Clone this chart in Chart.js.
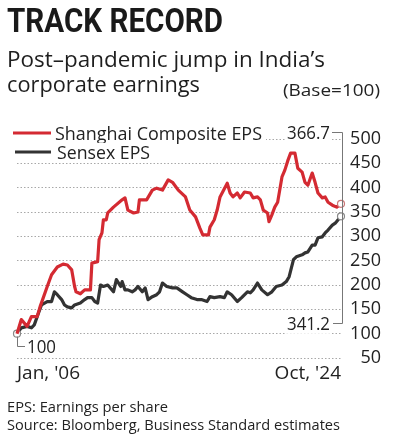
<!DOCTYPE html>
<html>
<head>
<meta charset="utf-8">
<script src="https://cdn.jsdelivr.net/npm/chart.js@4.4.1/dist/chart.umd.min.js"></script>
<style>
    html, body { margin: 0; padding: 0; background: #fff; }
    #wrap { position: relative; width: 393px; height: 443px; overflow: hidden; }
    #chart { position: absolute; left: 0; top: 0; }
    .txt {
        position: absolute;
        white-space: nowrap;
        color: #222;
        font-family: "Open Sans", "Noto Sans", sans-serif;
        transform-origin: 0 0;
        line-height: 1;
    }
    #title { left: 7px; top: 3px; font-family: Roboto, "Liberation Sans", sans-serif; font-weight: 700; font-size: 34px; color: #1a1a1a; }
    #sub1 { left: 7px; top: 49px; font-size: 21px; color: #1e1e1e; }
    #sub2 { left: 7px; top: 74px; font-size: 21px; color: #1e1e1e; }
    #base { left: 283px; top: 81px; font-size: 17px; }
    #note { left: 7px; top: 399px; font-size: 15px; }
    #source { left: 7px; top: 417px; font-size: 15px; }
</style>
</head>
<body>
<div id="wrap">
    <canvas id="chart" width="393" height="443"></canvas>
    <div class="txt" id="title" data-w="216">TRACK RECORD</div>
    <div class="txt" id="sub1" data-w="318">Post–pandemic jump in India’s</div>
    <div class="txt" id="sub2" data-w="193">corporate earnings</div>
    <div class="txt" id="base" data-w="97">(Base=100)</div>
    <div class="txt" id="note" data-w="161">EPS: Earnings per share</div>
    <div class="txt" id="source" data-w="333">Source: Bloomberg, Business Standard estimates</div>
</div>
<script>
// Months counted from Jan 2006 (0) to Oct 2024 (225)
const shanghaiMonths = [0, 3, 7, 10, 14, 16, 21, 24, 28, 32, 35, 38, 40, 41, 44, 47, 51, 52, 56, 57, 59, 60, 62, 63, 67, 73, 75, 77, 81, 84, 85, 90, 94, 97, 101, 105, 108, 112, 117, 120, 124, 127, 129, 133, 134, 137, 139, 141, 146, 148, 150, 153, 155, 158, 162, 164, 167, 169, 171, 174, 175, 177, 179, 181, 184, 186, 188, 190, 193, 195, 198, 200, 202, 205, 207, 209, 212, 214, 216, 219, 222, 225];
const shanghaiEps = [100, 129, 115, 135, 135, 155, 197, 221, 237, 243, 241, 231, 197, 186, 182, 190, 190, 245, 248, 293, 307, 334, 334, 348, 360, 375, 379, 354, 348, 350, 375, 375, 395, 399, 395, 416, 411, 395, 381, 354, 340, 317, 303, 303, 319, 334, 354, 381, 409, 389, 381, 389, 379, 391, 389, 379, 381, 375, 354, 348, 330, 344, 360, 370, 422, 436, 455, 471, 471, 440, 432, 411, 405, 430, 411, 389, 379, 381, 370, 364, 360, 366.7];

const sensexMonths = [0, 3, 7, 10, 12, 15, 17, 21, 24, 26, 28, 31, 33, 35, 38, 40, 44, 47, 49, 52, 54, 56, 58, 60, 63, 67, 69, 72, 73, 75, 77, 80, 82, 84, 87, 89, 91, 94, 97, 99, 101, 104, 108, 111, 115, 118, 121, 125, 128, 132, 134, 137, 141, 144, 146, 149, 153, 156, 160, 162, 164, 167, 170, 174, 177, 180, 184, 187, 189, 192, 194, 198, 200, 202, 205, 207, 209, 212, 214, 216, 219, 221, 225];
const sensexEps = [100, 112, 115, 112, 118, 143, 159, 166, 166, 186, 180, 170, 159, 155, 153, 159, 163, 170, 174, 174, 166, 163, 200, 197, 200, 186, 211, 197, 207, 190, 190, 186, 190, 197, 186, 194, 170, 176, 180, 186, 204, 197, 194, 194, 186, 180, 174, 170, 170, 166, 176, 174, 176, 174, 186, 180, 166, 174, 186, 184, 190, 204, 190, 180, 186, 197, 200, 207, 217, 252, 258, 262, 266, 268, 282, 282, 297, 299, 307, 313, 323, 327, 341.2];

const xTickLabels = ["Jan, '06", "Oct, '24"];
const yMin = 50;
const yMax = 500;
const yStep = 50;

const seriesNames = ['Shanghai Composite EPS', 'Sensex EPS'];
const baseLabel = '100';

const RED = '#d42a32';
const DARK = '#333333';
const TEXT = '#222222';
const FONT = '"Open Sans", "Noto Sans", sans-serif';

/**
 * Squeeze HTML text to the width measured on the reference
 */
function fitHtmlText() {
    document.querySelectorAll('.txt[data-w]').forEach(el => {
        const target = parseFloat(el.dataset.w);
        const w = el.getBoundingClientRect().width;
        if (w > 0) {
            el.style.transform = 'scaleX(' + (target / w) + ')';
        }
    });
}

/**
 * Draw canvas text squeezed to a given width, with white behind it
 */
function drawFitText(ctx, text, x, y, width, size, color) {
    ctx.save();
    ctx.font = size + 'px ' + FONT;
    ctx.textBaseline = 'alphabetic';
    ctx.textAlign = 'left';
    const w = ctx.measureText(text).width;
    const sx = width / w;
    ctx.fillStyle = '#fff';
    ctx.fillRect(x - 2, y - size * 0.85, width + 4, size * 1.05);
    ctx.translate(x, y);
    ctx.scale(sx, 1);
    ctx.fillStyle = color;
    ctx.fillText(text, 0, 0);
    ctx.restore();
}

// Legend, end labels and brackets
const annotations = {
    id: 'annotations',
    afterDraw(chart) {
        const ctx = chart.ctx;
        const xs = chart.scales.x;
        const ys = chart.scales.y;

        // legend
        ctx.save();
        ctx.fillStyle = '#fff';
        ctx.fillRect(8, 124, 258, 38);
        ctx.lineWidth = 3;
        ctx.strokeStyle = RED;
        ctx.beginPath();
        ctx.moveTo(13, 133);
        ctx.lineTo(51, 133);
        ctx.stroke();
        ctx.strokeStyle = DARK;
        ctx.beginPath();
        ctx.moveTo(15, 152);
        ctx.lineTo(51, 152);
        ctx.stroke();
        ctx.restore();
        drawFitText(ctx, seriesNames[0], 55, 140, 207, 19, TEXT);
        drawFitText(ctx, seriesNames[1], 57, 159, 93, 19, TEXT);

        // end value labels
        const redEnd = shanghaiEps[shanghaiEps.length - 1];
        const darkEnd = sensexEps[sensexEps.length - 1];
        drawFitText(ctx, redEnd.toFixed(1), 287, 139, 43, 19, TEXT);
        drawFitText(ctx, darkEnd.toFixed(1), 287, 330, 43, 19, TEXT);

        // bracket linking the end labels
        const xEnd = xs.getPixelForValue(225) + 1;
        ctx.save();
        ctx.strokeStyle = '#777';
        ctx.lineWidth = 1;
        ctx.beginPath();
        ctx.moveTo(332, 132.5);
        ctx.lineTo(xEnd + 0.5, 132.5);
        ctx.lineTo(xEnd + 0.5, 323.5);
        ctx.lineTo(333, 323.5);
        ctx.stroke();

        // base bracket
        const x0 = xs.getPixelForValue(0);
        const y0 = ys.getPixelForValue(100);
        ctx.beginPath();
        ctx.moveTo(x0 + 0.5, y0 + 3);
        ctx.lineTo(x0 + 0.5, 346.5);
        ctx.lineTo(x0 + 9, 346.5);
        ctx.stroke();
        ctx.restore();
        drawFitText(ctx, baseLabel, 27, 353, 29, 19, TEXT);
    }
};

function endPointRadius(len, withStart) {
    return (c) => (c.dataIndex === len - 1 || (withStart && c.dataIndex === 0)) ? 3.5 : 0;
}

const yTicks = [];
for (let v = yMin; v <= yMax; v += yStep) yTicks.push(v);

new Chart(document.getElementById('chart'), {
    type: 'line',
    data: {
        datasets: [
            {
                label: seriesNames[0],
                data: shanghaiMonths.map((m, i) => ({ x: m, y: shanghaiEps[i] })),
                borderColor: RED,
                borderWidth: 3.2,
                tension: 0,
                borderJoinStyle: 'round',
                pointRadius: endPointRadius(shanghaiEps.length, false),
                pointBackgroundColor: '#fff',
                pointBorderColor: '#c77',
                pointBorderWidth: 1.2,
                clip: false
            },
            {
                label: seriesNames[1],
                data: sensexMonths.map((m, i) => ({ x: m, y: sensexEps[i] })),
                borderColor: DARK,
                borderWidth: 3.2,
                tension: 0,
                borderJoinStyle: 'round',
                pointRadius: endPointRadius(sensexEps.length, true),
                pointBackgroundColor: '#fff',
                pointBorderColor: '#888',
                pointBorderWidth: 1.2,
                clip: false
            }
        ]
    },
    options: {
        responsive: false,
        animation: false,
        layout: {
            padding: { left: 17, top: 139, right: 12, bottom: 45 }
        },
        plugins: {
            legend: { display: false },
            tooltip: { enabled: false }
        },
        scales: {
            x: {
                type: 'linear',
                min: 0,
                max: 225,
                afterBuildTicks: (scale) => {
                    scale.ticks = [{ value: 0 }, { value: 225 }];
                },
                afterFit: (scale) => { scale.height = 40; },
                grid: { display: false },
                border: { display: false },
                ticks: {
                    autoSkip: false,
                    maxRotation: 0,
                    align: 'inner',
                    padding: -4,
                    color: TEXT,
                    font: { family: FONT, size: 19 },
                    callback: (value, index) => xTickLabels[index]
                }
            },
            y: {
                position: 'right',
                min: yMin,
                max: yMax,
                afterBuildTicks: (scale) => {
                    scale.ticks = yTicks.map(v => ({ value: v }));
                },
                afterFit: (scale) => { scale.width = 40; },
                grid: {
                    color: '#a8a8a8',
                    lineWidth: 1,
                    drawTicks: false
                },
                border: { display: false, dash: [1.5, 2] },
                ticks: {
                    autoSkip: false,
                    padding: 0,
                    crossAlign: 'far',
                    color: TEXT,
                    font: { family: FONT, size: 18 }
                }
            }
        }
    },
    plugins: [annotations]
});

fitHtmlText();
</script>
</body>
</html>
